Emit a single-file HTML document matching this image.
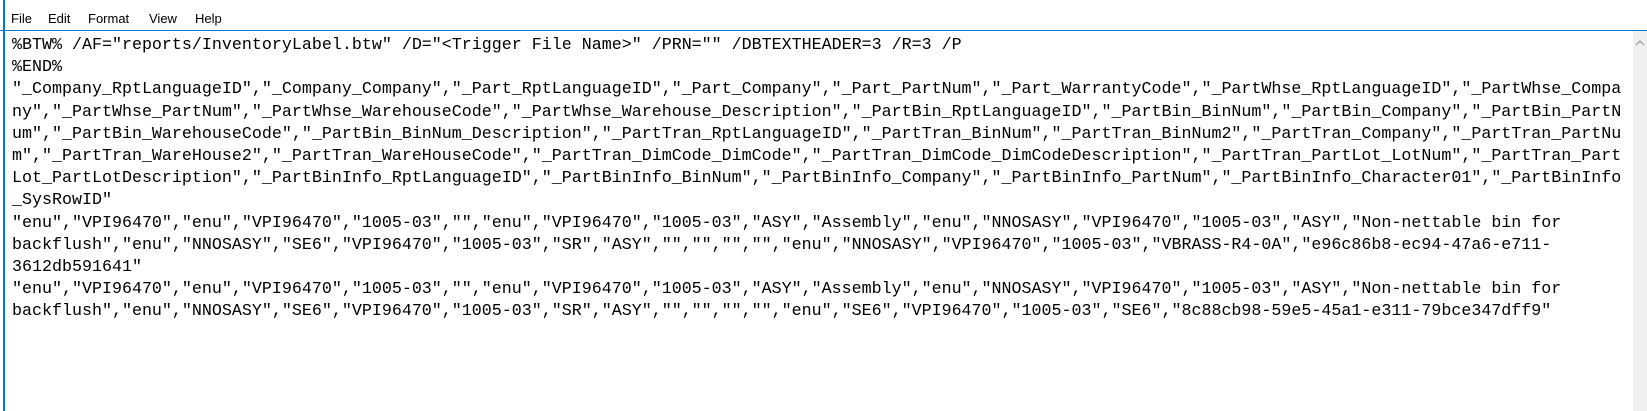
<!DOCTYPE html>
<html><head><meta charset="utf-8"><style>
html,body{margin:0;padding:0;background:#fff;width:1647px;height:411px;overflow:hidden}
.menu{position:absolute;left:0;top:0;width:1647px;height:30px;font-family:"Liberation Sans",sans-serif;font-size:13px;color:#000}
.menu span{position:absolute;top:11px}
.top{position:absolute;left:0;top:30px;width:1647px;height:1px;background:#0078d7}
.left{position:absolute;left:3px;top:0;width:2px;height:411px;background:#0078d7}
.sb{position:absolute;left:1633px;top:31px;width:14px;height:380px;background:#f0f0f0}
.txt{position:absolute;left:12px;top:35px;margin:0;font-family:"Liberation Mono",monospace;font-size:16.67px;line-height:22.2px;color:#000;white-space:pre}
</style></head><body>
<div class="menu"><span style="left:11px">File</span><span style="left:48px">Edit</span><span style="left:88px">Format</span><span style="left:149px">View</span><span style="left:195px">Help</span></div>
<div class="top"></div><div class="left"></div>
<div class="sb"><svg width="14" height="20" style="position:absolute;top:4px;left:0"><polyline points="3,10 7,6 11,10" fill="none" stroke="#a0a0a0" stroke-width="1.3"/></svg></div>
<pre class="txt">%BTW% /AF="reports/InventoryLabel.btw" /D="&lt;Trigger File Name&gt;" /PRN="" /DBTEXTHEADER=3 /R=3 /P
%END%
"_Company_RptLanguageID","_Company_Company","_Part_RptLanguageID","_Part_Company","_Part_PartNum","_Part_WarrantyCode","_PartWhse_RptLanguageID","_PartWhse_Compa
ny","_PartWhse_PartNum","_PartWhse_WarehouseCode","_PartWhse_Warehouse_Description","_PartBin_RptLanguageID","_PartBin_BinNum","_PartBin_Company","_PartBin_PartN
um","_PartBin_WarehouseCode","_PartBin_BinNum_Description","_PartTran_RptLanguageID","_PartTran_BinNum","_PartTran_BinNum2","_PartTran_Company","_PartTran_PartNu
m","_PartTran_WareHouse2","_PartTran_WareHouseCode","_PartTran_DimCode_DimCode","_PartTran_DimCode_DimCodeDescription","_PartTran_PartLot_LotNum","_PartTran_Part
Lot_PartLotDescription","_PartBinInfo_RptLanguageID","_PartBinInfo_BinNum","_PartBinInfo_Company","_PartBinInfo_PartNum","_PartBinInfo_Character01","_PartBinInfo
_SysRowID"
"enu","VPI96470","enu","VPI96470","1005-03","","enu","VPI96470","1005-03","ASY","Assembly","enu","NNOSASY","VPI96470","1005-03","ASY","Non-nettable bin for
backflush","enu","NNOSASY","SE6","VPI96470","1005-03","SR","ASY","","","","","enu","NNOSASY","VPI96470","1005-03","VBRASS-R4-0A","e96c86b8-ec94-47a6-e711-
3612db591641"
"enu","VPI96470","enu","VPI96470","1005-03","","enu","VPI96470","1005-03","ASY","Assembly","enu","NNOSASY","VPI96470","1005-03","ASY","Non-nettable bin for
backflush","enu","NNOSASY","SE6","VPI96470","1005-03","SR","ASY","","","","","enu","SE6","VPI96470","1005-03","SE6","8c88cb98-59e5-45a1-e311-79bce347dff9"</pre>
</body></html>
